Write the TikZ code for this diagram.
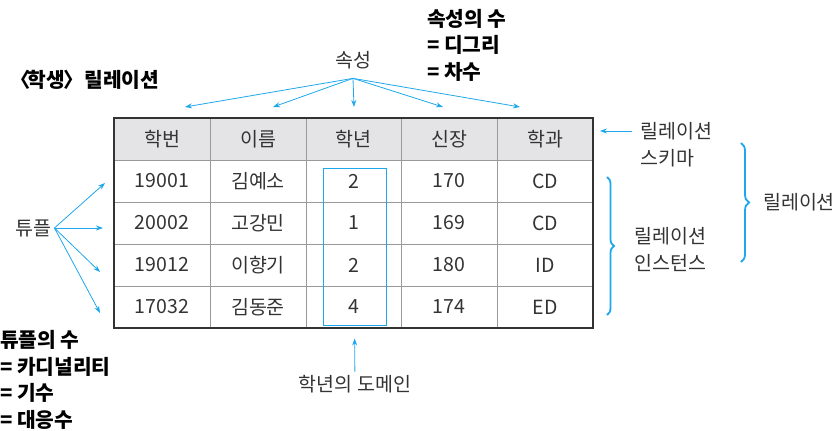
\documentclass[tikz,border=0pt]{standalone}
\usepackage{fontspec}
\setmainfont{Noto Sans CJK KR}
\usetikzlibrary{arrows.meta,decorations.pathreplacing}
\definecolor{relblue}{HTML}{1EA7EC}
\definecolor{headgray}{HTML}{E4E4E6}
\definecolor{txtgray}{HTML}{333333}
\begin{document}
\begin{tikzpicture}[x=1pt, y=-1pt, >={Stealth[length=7pt,width=5pt]},
  every node/.style={font=\fontsize{19.5}{27}\selectfont, text=txtgray},
  ptr/.style={->, draw=relblue, line width=0.8pt},
  curly/.style={decorate, decoration={brace, amplitude=#1}, draw=relblue, line width=1.8pt},
  boldnote/.style={font=\fontsize{20.3}{26.5}\selectfont\bfseries, text=black, align=left, anchor=west, inner xsep=0pt}]
  \useasboundingbox (0,0) rectangle (839,431);

  % student relation table
  \fill[headgray] (114,118) rectangle (593,160);
  \foreach \x in {210,306,401,497} \draw[gray!80] (\x,118) -- (\x,328);
  \foreach \y in {160,202,244,286} \draw[gray!80] (114,\y) -- (593,\y);
  \draw[line width=1.4pt, black!80] (114,118) rectangle (593,328);
  \foreach \r/\a/\b/\c/\d/\e in {0/학번/이름/학년/신장/학과, 1/19001/김예소/2/170/CD,
      2/20002/고강민/1/169/CD, 3/19012/이향기/2/180/ID, 4/17032/김동준/4/174/ED} {
    \node (id\r) at (162,139+42*\r) {\a};
    \node (name\r) at (258,139+42*\r) {\b};
    \node (year\r) at (353.5,139+42*\r) {\c};
    \node (height\r) at (449,139+42*\r) {\d};
    \node (dept\r) at (545,139+42*\r) {\e};
  }
  \node (dom) [draw=relblue, line width=1pt, minimum width=63pt, minimum height=157pt, inner sep=0pt] at (354.5,246.5) {};

  % attributes
  \node (attr) at (353,60) {속성};
  \coordinate (attrfoot) at ([yshift=-6pt]attr.south);
  \foreach \i/\x in {1/185, 2/273, 3/354, 4/443, 5/520} {
    \coordinate (tip\i) at (\x,107);
    \draw[ptr] (attrfoot) -- (tip\i);
  }
  \node (degree) [boldnote] at (427,45) {속성의 수\\= 디그리\\= 차수};
  \node (title) [boldnote] at (10,80) {〈\kern-3pt 학생\kern-1.5pt〉\kern1pt 릴레이션};

  % tuples
  \node (tuple) at (33,228) {튜플};
  \foreach \i/\x/\y in {1/105/183, 2/103/228, 3/100/272, 4/100/313} {
    \coordinate (row\i) at (\x,\y);
    \draw[ptr] (tuple.east) -- (row\i);
  }
  \node (card) [boldnote] at (0,380) {튜플의 수\\= 카디널리티\\= 기수\\= 대응수};

  % domain
  \node (domlbl) at (355,384) {학년의 도메인};
  \draw[ptr, shorten >=13pt] (domlbl) -- (dom.south);

  % schema, instance, relation
  \node (schema) [anchor=west, align=left, inner xsep=0pt] at (640,145) {릴레이션\\스키마};
  \coordinate (schemaend) at (600,131);
  \draw[ptr, shorten <=8pt] (schema.west |- schemaend) -- (schemaend);
  \node (inst) [anchor=west, align=left, inner xsep=0pt] at (634,249) {릴레이션\\인스턴스};
  \draw[curly=7pt] (607,177) -- (607,315);
  \node (rel) at (799,202) {릴레이션};
  \draw[curly=8pt] (741,143) -- (741,262);
\end{tikzpicture}
\end{document}
